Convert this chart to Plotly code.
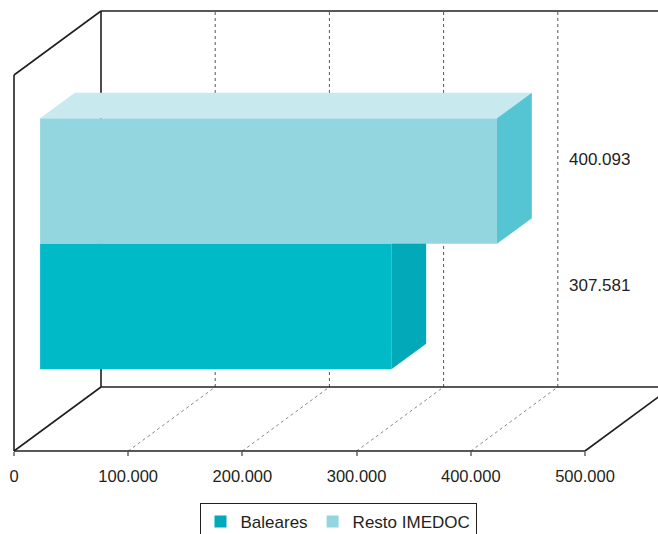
import plotly.graph_objects as go

# ---------------- data ----------------
categories = ["Baleares", "Resto IMEDOC"]
values = [307581, 400093]
value_labels = ["307.581", "400.093"]
tick_vals = [0, 100000, 200000, 300000, 400000, 500000]
tick_labels = ["0", "100.000", "200.000", "300.000", "400.000", "500.000"]

front_colors = ["#00BAC8", "#94D6DF"]
top_colors = ["#4DCFD9", "#C8E9EE"]
side_colors = ["#01A9B9", "#55C5D3"]
legend_colors = ["#00A9BC", "#94D6DF"]

# ---------------- geometry (style) ----------------
W, H = 658, 534
X0_PX, XMAX_PX = 14, 585          # pixel of 0 and of 500000 on the front plane
FLOOR_PX, TOP_PX = 451, 75        # pixel of floor and top on the front plane
VMAX = tick_vals[-1]
px_per_v = (XMAX_PX - X0_PX) / VMAX
px_per_y = FLOOR_PX - TOP_PX
DX = 87 / px_per_v                # full depth offset, in value units
DY = 64 / px_per_y                # full depth offset, in y units
D0, D1 = 0.3, 0.7                 # bar depth span
GROUP = 0.6676                    # fraction of band filled by the bar group
bar_h = GROUP / len(values)

x_range = [(0 - X0_PX) / px_per_v, (W - X0_PX) / px_per_v]
y_range = [(FLOOR_PX - H) / px_per_y, FLOOR_PX / px_per_y]

INK = "#231f20"
FONT = "Liberation Sans, Arial, Helvetica, sans-serif"


def P(v, d, y):
    return v + d * DX, y + d * DY


fig = go.Figure()

# ---------------- 3D bars ----------------
for i, (name, v) in enumerate(zip(categories, values)):
    y0 = 0.5 - GROUP / 2 + i * bar_h
    y1 = y0 + bar_h
    faces = [
        ([P(0, D0, y0), P(v, D0, y0), P(v, D0, y1), P(0, D0, y1)], front_colors[i]),
        ([P(0, D0, y1), P(v, D0, y1), P(v, D1, y1), P(0, D1, y1)], top_colors[i]),
        ([P(v, D0, y0), P(v, D1, y0), P(v, D1, y1), P(v, D0, y1)], side_colors[i]),
    ]
    for pts, col in faces:
        xs = [p[0] for p in pts] + [pts[0][0]]
        ys = [p[1] for p in pts] + [pts[0][1]]
        fig.add_trace(go.Scatter(x=xs, y=ys, mode="lines", fill="toself",
                                 fillcolor=col, line=dict(width=0, color=col),
                                 showlegend=False, hoverinfo="skip"))
    # legend entry
    fig.add_trace(go.Bar(x=[None], y=[None], name=name, orientation="h",
                         marker=dict(color=legend_colors[i], line=dict(width=0))))
    # value label
    yc = (y0 + y1) / 2 + 0.63 * DY
    fig.add_annotation(x=567 / W, xref="paper", y=yc, yref="y", text=value_labels[i],
                       showarrow=False, xanchor="left", yanchor="middle",
                       font=dict(size=17, color=INK, family=FONT))

# ---------------- frame lines ----------------
shapes = []


def seg(a, b, color=INK, width=1.6, dash="solid"):
    shapes.append(dict(type="line", xref="x", yref="y", x0=a[0], y0=a[1], x1=b[0], y1=b[1],
                       line=dict(color=color, width=width, dash=dash), layer="below"))


# back wall gridlines and floor diagonals (dotted)
for t in tick_vals[1:-1]:
    seg(P(t, 1, 0), P(t, 1, 1), color="#555555", width=1, dash="dot")
    seg(P(t, 0, 0), P(t, 1, 0), color="#888888", width=1, dash="dot")

# left wall
seg(P(0, 0, 0), P(0, 0, 1))
seg(P(0, 0, 1), P(0, 1, 1))
seg(P(0, 0, 0), P(0, 1, 0))
# back wall
seg(P(0, 1, 0), P(0, 1, 1))
seg(P(0, 1, 1), P(VMAX, 1, 1))
seg(P(0, 1, 0), P(VMAX, 1, 0))
seg(P(VMAX, 1, 0), P(VMAX, 1, 1))
# floor
seg(P(0, 0, 0), P(VMAX, 0, 0))
seg(P(VMAX, 0, 0), P(VMAX, 1, 0))

fig.update_layout(
    width=W, height=H,
    margin=dict(l=0, r=0, t=0, b=0, pad=0, autoexpand=False),
    paper_bgcolor="white", plot_bgcolor="white",
    shapes=shapes,
    showlegend=True,
    legend=dict(orientation="h", x=338 / W, xanchor="center", y=(H - 503) / H, yanchor="top",
                bordercolor=INK, borderwidth=1, bgcolor="white",
                font=dict(size=17, color=INK, family=FONT), traceorder="normal"),
    xaxis=dict(range=x_range, anchor="free", position=(H - FLOOR_PX) / H,
               showgrid=False, zeroline=False, showline=False,
               tickmode="array", tickvals=tick_vals, ticktext=tick_labels,
               ticks="outside", ticklen=4, tickwidth=1.5, tickcolor="#8a8a8a",
               ticklabelstandoff=6,
               tickfont=dict(size=16.5, color=INK, family=FONT), fixedrange=True),
    yaxis=dict(range=y_range, visible=False, fixedrange=True),
    hovermode=False,
)

fig.write_html("out.html")
